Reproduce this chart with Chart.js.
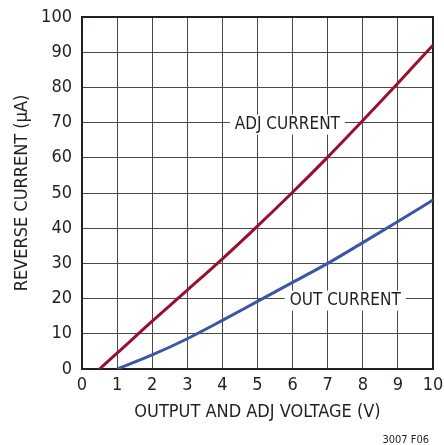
<!DOCTYPE html>
<html>
<head>
<meta charset="utf-8">
<script src="https://cdn.jsdelivr.net/npm/chart.js@4/dist/chart.umd.min.js"></script>
<style>
  html, body { margin: 0; padding: 0; background: #fff; }
  canvas { display: block; }
</style>
</head>
<body>
<canvas id="chart" width="444" height="445"></canvas>
<script>
'use strict';

// Data
const adjVoltage = [0.5, 1, 2, 3, 4, 5, 6, 7, 8, 9, 10];
const adjCurrent = [0, 4.5, 13.6, 22.4, 31.3, 40.6, 50.2, 60.2, 70.6, 81.2, 92];
const outVoltage = [1, 2, 3, 4, 5, 6, 7, 8, 9, 10];
const outCurrent = [0, 4, 8.6, 13.8, 19.2, 24.6, 30, 35.9, 41.9, 48];
const xTicks = [0, 1, 2, 3, 4, 5, 6, 7, 8, 9, 10];
const yTicks = [0, 10, 20, 30, 40, 50, 60, 70, 80, 90, 100];

const FONT = "'Liberation Sans Narrow', 'Arial Narrow', 'DejaVu Sans Condensed', sans-serif";

const toPoints = (xs, ys) => xs.map((x, i) => ({ x: x, y: ys[i] }));

// Popisky křivek s bílým pozadím a rámeček grafu
const labelPlugin = {
    id: 'curveLabels',
    beforeDatasetsDraw: (chart) => {
        const ctx = chart.ctx;
        const xs = chart.scales.x;
        const ys = chart.scales.y;
        const labels = [
            { text: 'ADJ CURRENT', x: 5.85, y: 70, dy: 2 },
            { text: 'OUT CURRENT', x: 7.5, y: 20, dy: 2 }
        ];
        ctx.save();
        ctx.font = '17px ' + FONT;
        ctx.textAlign = 'center';
        ctx.textBaseline = 'middle';
        labels.forEach(l => {
            const px = xs.getPixelForValue(l.x);
            const py = ys.getPixelForValue(l.y) + l.dy;
            const w = ctx.measureText(l.text).width;
            ctx.fillStyle = '#fff';
            ctx.fillRect(px - w / 2 - 5, py - 10, w + 10, 20);
            ctx.fillStyle = '#231f20';
            ctx.fillText(l.text, px, py);
        });
        const a = chart.chartArea;
        ctx.strokeStyle = '#231f20';
        ctx.lineWidth = 2;
        ctx.strokeRect(a.left, a.top, a.right - a.left, a.bottom - a.top);
        ctx.font = '11px ' + FONT;
        ctx.textAlign = 'right';
        ctx.fillStyle = '#231f20';
        ctx.fillText('3007 F06', 429, 440);
        ctx.restore();
    }
};

const tickStyle = { color: '#231f20', font: { family: FONT, size: 18 } };
const gridStyle = { color: '#4a4a4a', lineWidth: 1, drawTicks: false };

new Chart(document.getElementById('chart').getContext('2d'), {
    type: 'line',
    data: {
        datasets: [{
            label: 'ADJ CURRENT',
            data: toPoints(adjVoltage, adjCurrent),
            borderColor: '#9b0f2e',
            borderWidth: 3,
            pointRadius: 0,
            cubicInterpolationMode: 'monotone',
            fill: false
        }, {
            label: 'OUT CURRENT',
            data: toPoints(outVoltage, outCurrent),
            borderColor: '#3b56a6',
            borderWidth: 3,
            pointRadius: 0,
            cubicInterpolationMode: 'monotone',
            fill: false
        }]
    },
    options: {
        responsive: false,
        animation: false,
        layout: { padding: { top: 17, right: 11, left: 0, bottom: 0 } },
        scales: {
            x: {
                type: 'linear',
                min: 0,
                max: 10,
                afterFit: (s) => { s.height = 76; s.paddingLeft = 0; s.paddingRight = 0; },
                afterBuildTicks: (s) => { s.ticks = xTicks.map(v => ({ value: v })); },
                ticks: Object.assign({ padding: 6, maxRotation: 0 }, tickStyle),
                grid: gridStyle,
                border: { display: false },
                title: {
                    display: true,
                    text: 'OUTPUT AND ADJ VOLTAGE (V)',
                    color: '#231f20',
                    font: { family: FONT, size: 18 },
                    padding: { top: 0, bottom: 22 }
                }
            },
            y: {
                min: 0,
                max: 100,
                afterFit: (s) => { s.width = 82; s.paddingTop = 0; s.paddingBottom = 0; },
                afterBuildTicks: (s) => { s.ticks = yTicks.map(v => ({ value: v })); },
                ticks: Object.assign({ padding: 10 }, tickStyle),
                grid: gridStyle,
                border: { display: false },
                title: {
                    display: true,
                    text: 'REVERSE CURRENT (µA)',
                    color: '#231f20',
                    font: { family: FONT, size: 18 },
                    padding: { top: 12, bottom: 0 }
                }
            }
        },
        plugins: {
            legend: { display: false },
            tooltip: { enabled: false }
        }
    },
    plugins: [labelPlugin]
});
</script>
</body>
</html>
